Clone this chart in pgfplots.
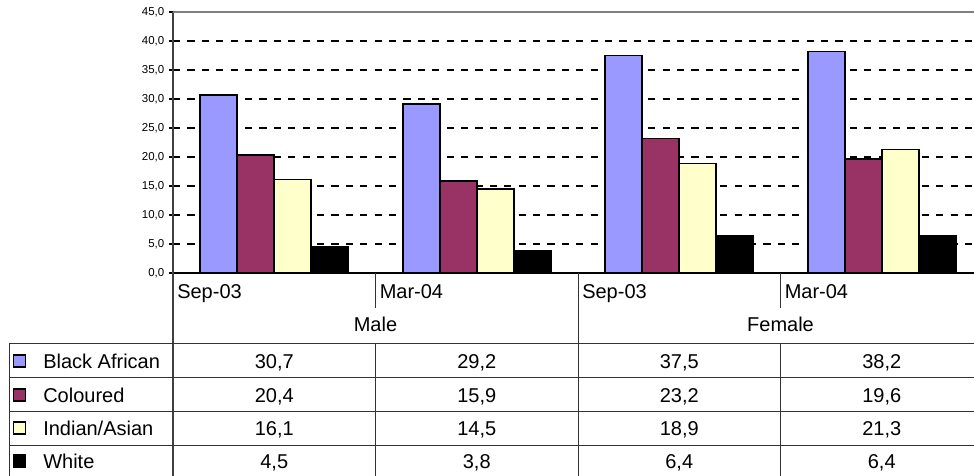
\documentclass[border=0pt]{standalone}
\usepackage{fontspec}
\setmainfont{Liberation Sans}
\usepackage{pgfplots}
\pgfplotsset{compat=1.18}
\definecolor{blackafrican}{HTML}{9999FF}
\definecolor{coloured}{HTML}{993366}
\definecolor{indianasian}{HTML}{FFFFCC}
\definecolor{whitegrp}{HTML}{000000}

\begin{document}
\begin{tikzpicture}
\begin{axis}[
  at={(0,0)}, anchor=south west,
  scale only axis, width=607.5pt, height=195.75pt,
  xmin=-0.5, xmax=3.5, ymin=0, ymax=45,
  ybar=0pt, bar width=0.1827,
  xtick=\empty,
  ytick={0,5,10,15,20,25,30,35,40,45},
  axis x line*=bottom, axis y line*=left,
  x axis line style={-, black, line width=1.1pt},
  y axis line style={-, black!75, line width=1.4pt},
  ymajorgrids,
  major grid style={black, line width=0.8pt, dash pattern=on 5.4pt off 5.4pt},
  tick align=center, major tick length=6pt,
  tick style={black, line width=0.8pt},
  ticklabel style={font=\fontsize{8.6}{9}\selectfont},
  yticklabel style={/pgf/number format/fixed, /pgf/number format/fixed zerofill,
    /pgf/number format/precision=1, /pgf/number format/use comma},
  /pgf/number format/assume math mode=true,
  clip=false,
  every axis plot/.append style={draw=black, line width=1.3pt},
]
\addplot[fill=blackafrican] coordinates {(0,30.7) (1,29.2) (2,37.5) (3,38.2)};
\addplot[fill=coloured] coordinates {(0,20.4) (1,15.9) (2,23.2) (3,19.6)};
\addplot[fill=indianasian] coordinates {(0,16.1) (1,14.5) (2,18.9) (3,21.3)};
\addplot[fill=whitegrp] coordinates {(0,4.5) (1,3.8) (2,6.4) (3,6.4)};
\draw[black!50, line width=1.5pt] (rel axis cs:0,1) -- (rel axis cs:1,1);
\end{axis}

% data table below the plot, 1 unit = 1 px of the reference
\begin{scope}[x=0.75pt, y=0.75pt,
  tline/.style={draw=black!80, line width=0.6pt},
  tfont/.style={font=\fontsize{15}{18}\selectfont, inner sep=0pt, text height=10.7pt, text depth=0pt}]
  \draw[black!75, line width=1.4pt] (0,0) -- (0,-205);
  \draw[tline] (202.5,0) -- (202.5,-35);
  \draw[tline] (607.5,0) -- (607.5,-35);
  \draw[tline] (405,0) -- (405,-205);
  \draw[tline] (810,0) -- (810,-205);
  \draw[tline] (202.5,-70) -- (202.5,-205);
  \draw[tline] (607.5,-70) -- (607.5,-205);
  \draw[tline] (-164,-70) -- (-164,-205);
  \foreach \yy in {-70,-104,-138.5,-172}
    \draw[tline] (-164,\yy) -- (810,\yy);
  % column headers
  \node[tfont, anchor=west] at (4,-18.4) {Sep-03};
  \node[tfont, anchor=west] at (206.5,-18.4) {Mar-04};
  \node[tfont, anchor=west] at (409,-18.4) {Sep-03};
  \node[tfont, anchor=west] at (611.5,-18.4) {Mar-04};
  \node[tfont] at (202.5,-51.7) {Male};
  \node[tfont] at (607.5,-51.7) {Female};
  % legend column
  \draw[black, line width=1.2pt, fill=blackafrican] (-159.3,-94.2) rectangle (-147.3,-82.2);
  \draw[black, line width=1.2pt, fill=coloured] (-159.3,-127.8) rectangle (-147.3,-115.8);
  \draw[black, line width=1.2pt, fill=indianasian] (-159.3,-160.8) rectangle (-147.3,-148.8);
  \draw[black, line width=1.2pt, fill=whitegrp] (-159.3,-194.2) rectangle (-147.3,-182.2);
  \node[tfont, anchor=west] at (-130,-88.4) {Black African};
  \node[tfont, anchor=west] at (-130,-122) {Coloured};
  \node[tfont, anchor=west] at (-130,-155) {Indian/Asian};
  \node[tfont, anchor=west] at (-130,-188.4) {White};
  % values
  \node[tfont] at (101.25,-88.4) {30,7};
  \node[tfont] at (303.75,-88.4) {29,2};
  \node[tfont] at (506.25,-88.4) {37,5};
  \node[tfont] at (708.75,-88.4) {38,2};
  \node[tfont] at (101.25,-122) {20,4};
  \node[tfont] at (303.75,-122) {15,9};
  \node[tfont] at (506.25,-122) {23,2};
  \node[tfont] at (708.75,-122) {19,6};
  \node[tfont] at (101.25,-155) {16,1};
  \node[tfont] at (303.75,-155) {14,5};
  \node[tfont] at (506.25,-155) {18,9};
  \node[tfont] at (708.75,-155) {21,3};
  \node[tfont] at (101.25,-188.4) {4,5};
  \node[tfont] at (303.75,-188.4) {3,8};
  \node[tfont] at (506.25,-188.4) {6,4};
  \node[tfont] at (708.75,-188.4) {6,4};
  \pgfresetboundingbox
  \useasboundingbox (-173,-202) rectangle (801,273);
\end{scope}
\end{tikzpicture}
\end{document}
